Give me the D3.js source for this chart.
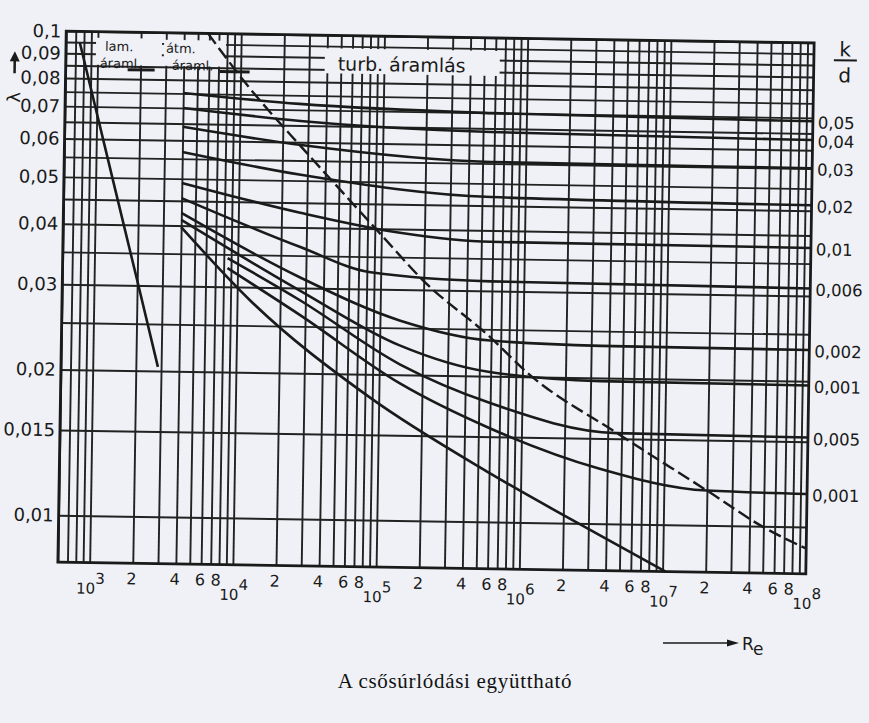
<!DOCTYPE html>
<html><head><meta charset="utf-8">
<script src="https://cdn.jsdelivr.net/npm/d3@7"></script>
<style>body{margin:0;background:#eff1f6;}svg{display:block}</style>
</head><body><svg id="c" width="869" height="723"></svg>
<script>
// ---- data ----
const reDomain=[600,1e8];
const lambdaDomain=[0.008,0.1];
const reDecades=[1e2,1e3,1e4,1e5,1e6,1e7];
const reMultipliers=[1,2,3,4,5,6,7,8,9];
const reMajor=[1e3,1e4,1e5,1e6,1e7,1e8];
const reMajorExp=["3","4","5","6","7","8"];
const reMinorDecades=[1e3,1e4,1e5,1e6,1e7];
const reMinorLabelMults=[2,4,6,8];
const lambdaGrid=[0.01,0.015,0.02,0.025,0.03,0.035,0.04,0.045,0.05,0.055,0.06,0.065,0.07,0.075,0.08,0.085,0.09,0.095,0.1];
const lambdaTicks=[0.1,0.09,0.08,0.07,0.06,0.05,0.04,0.03,0.02,0.015,0.01];
const lambdaTickLabels=["0,1","0,09","0,08","0,07","0,06","0,05","0,04","0,03","0,02","0,015","0,01"];
const laminar=[[750,0.0946],[1320,0.0494],[2030,0.0302],[2850,0.0204]];
const boundary=[[5860,0.1],[10400,0.0804],[29650,0.0570],[53500,0.0473],[102900,0.0385],[197700,0.0314],[589000,0.0241],[1.08e6,0.0204],[4.65e6,0.0154],[2.0e7,0.0118],[5.0e7,0.00996],[9.85e7,0.00904]];
const kd005=[[4000,0.0752],[26000,0.0720],[570000,0.0699],[1e8,0.0689]];
const kd004=[[4000,0.0700],[26500,0.0664],[570000,0.0639],[1e8,0.0630]];
const kd003=[[4000,0.0640],[27000,0.0592],[575000,0.0554],[1e8,0.0551]];
const kd002=[[4000,0.0568],[27000,0.0514],[580000,0.0469],[1e8,0.0462]];
const kd001=[[4000,0.0490],[27000,0.0429],[135000,0.0393],[580000,0.0379],[1e8,0.0377]];
const kd0006=[[4000,0.0456],[27000,0.0365],[85000,0.0325],[585000,0.0314],[1e8,0.0311]];
const kd0002=[[4000,0.0425],[27000,0.0316],[137000,0.0259],[590000,0.0237],[3.5e6,0.0233],[1e8,0.0232]];
const kd0001=[[4000,0.0411],[27000,0.0297],[138000,0.0230],[590000,0.0204],[3.5e6,0.0197],[1e8,0.0196]];
const kd00005=[[8500,0.0344],[27500,0.0283],[140000,0.0210],[600000,0.0176],[4.6e6,0.0154],[1e8,0.0153]];
const kd00001=[[8500,0.0328],[27500,0.0264],[140000,0.0192],[605000,0.0156],[3.5e6,0.0130],[2.0e7,0.0118],[1e8,0.0117]];
const smooth=[[4000,0.0397],[12300,0.0282],[87000,0.0179],[610000,0.0126],[3.6e6,0.00947],[1.05e7,0.008]];
const roughCurves=[kd005,kd004,kd003,kd002,kd001,kd0006,kd0002,kd0001,kd00005,kd00001];
const kdLabels=["0,05","0,04","0,03","0,02","0,01","0,006","0,002","0,001","0,005","0,001"];

// ---- drawing ----
const W=869,H=723, INK="#1a1a1a", BG="#eff1f6";
const svg=d3.select('#c');
svg.append('rect').attr('width',W).attr('height',H).attr('fill',BG);
const x=d3.scaleLog().domain(reDomain).range([62,810]);
const y=d3.scaleLog().domain(lambdaDomain).range([568,37]);
const [x0,x1]=x.range(), [y0,y1]=y.range();
const g=svg.append('g').attr('transform','rotate(0.9,436,303)');

// vertical grid
const gridRe=reDecades.flatMap(d=>reMultipliers.map(m=>d*m)).filter(v=>v>=reDomain[0]&&v<=reDomain[1]);
g.append('g').attr('transform',`translate(0,${y0})`)
 .call(d3.axisBottom(x).tickValues(gridRe).tickSize(-(y0-y1)).tickFormat(''))
 .call(s=>{s.select('.domain').remove();s.selectAll('line').attr('stroke','#222').attr('stroke-width',1.9);});
// horizontal grid
g.append('g').attr('transform',`translate(${x0},0)`)
 .call(d3.axisLeft(y).tickValues(lambdaGrid).tickSize(-(x1-x0)).tickFormat(''))
 .call(s=>{s.select('.domain').remove();s.selectAll('line').attr('stroke','#222').attr('stroke-width',1.9);});

// label masks
g.append('rect').attr('x',92).attr('y',43).attr('width',66).attr('height',27).attr('fill',BG);
g.append('rect').attr('x',160).attr('y',44).attr('width',62).attr('height',26).attr('fill',BG);
g.append('rect').attr('x',321).attr('y',50).attr('width',175).attr('height',25).attr('fill',BG);

// frame
g.append('rect').attr('x',x0).attr('y',y1).attr('width',x1-x0).attr('height',y0-y1)
 .attr('fill','none').attr('stroke',INK).attr('stroke-width',2.8);

const line=d3.line().x(d=>x(d[0])).y(d=>y(d[1]));
const lineSmooth=d3.line().x(d=>x(d[0])).y(d=>y(d[1])).curve(d3.curveMonotoneX);

g.append('path').attr('d',line(laminar)).attr('fill','none').attr('stroke',INK).attr('stroke-width',2.6);
[...roughCurves,smooth].forEach(c=>{
  g.append('path').attr('d',lineSmooth(c)).attr('fill','none').attr('stroke',INK).attr('stroke-width',2.6);
});
g.append('path').attr('d',lineSmooth(boundary)).attr('fill','none').attr('stroke',INK)
 .attr('stroke-width',2.4).attr('stroke-dasharray','13,5');

// in-plot labels
const lab=(tx,xx,yy,fs)=>g.append('text').attr('x',xx).attr('y',yy).text(tx)
  .attr('font-family','DejaVu Sans').attr('font-size',fs).attr('fill',INK);
lab('lam.',101,56,13);
lab('áraml.',96,73,13);
lab('átm.',162,57,13);
lab('áraml.',168,74,13);
g.append('line').attr('x1',124).attr('x2',151).attr('y1',74.5).attr('y2',74.5).attr('stroke',INK).attr('stroke-width',3);
g.append('line').attr('x1',216).attr('x2',246).attr('y1',75).attr('y2',75).attr('stroke',INK).attr('stroke-width',3);
lab('turb. áramlás',334,72,19);

// left axis labels
g.append('g').attr('transform',`translate(${x0},0)`)
 .call(d3.axisLeft(y).tickValues(lambdaTicks).tickFormat((d,i)=>lambdaTickLabels[i]).tickSize(0).tickPadding(5))
 .call(s=>{s.select('.domain').remove();s.selectAll('text').attr('font-family','DejaVu Sans').attr('font-size',18).attr('fill',INK);});

// right k/d labels
roughCurves.forEach((c,i)=>{
  g.append('text').attr('x',815).attr('y',y(c[c.length-1][1])+1.5).attr('dy','0.35em')
   .text(kdLabels[i]).attr('font-family','DejaVu Sans').attr('font-size',16.5).attr('fill',INK);
});
g.append('text').attr('x',841).attr('y',50).attr('text-anchor','middle').text('k')
 .attr('font-family','DejaVu Sans').attr('font-size',20).attr('fill',INK);
g.append('line').attr('x1',830).attr('x2',853).attr('y1',54).attr('y2',54).attr('stroke',INK).attr('stroke-width',2);
g.append('text').attr('x',841).attr('y',76).attr('text-anchor','middle').text('d')
 .attr('font-family','DejaVu Sans').attr('font-size',20).attr('fill',INK);

// lambda axis title with arrow
g.append('line').attr('x1',11).attr('x2',11).attr('y1',80).attr('y2',66).attr('stroke',INK).attr('stroke-width',2.5);
g.append('path').attr('d','M6,68 L11,58 L16,68 Z').attr('fill',INK);
g.append('text').attr('transform','translate(17,104) rotate(-90)').attr('text-anchor','middle').text('λ')
 .attr('font-family','DejaVu Sans').attr('font-size',18).attr('fill',INK);

// x tick labels
reMinorDecades.forEach(d=>reMinorLabelMults.forEach(m=>{
  g.append('text').attr('x',x(d*m)-(m===8?3:1)).attr('y',589).attr('text-anchor','middle').text(m)
   .attr('font-family','DejaVu Sans').attr('font-size',16).attr('fill',INK);
}));
reMajor.forEach((v,i)=>{
  const dy=i===0?-4:0;
  g.append('text').attr('x',x(v)+6).attr('y',603+dy).attr('text-anchor','end').text('10')
   .attr('font-family','DejaVu Sans').attr('font-size',15).attr('fill',INK);
  g.append('text').attr('x',x(v)+6).attr('y',593+dy).attr('text-anchor','start').text(reMajorExp[i])
   .attr('font-family','DejaVu Sans').attr('font-size',15).attr('fill',INK);
});

// Re arrow (unrotated)
svg.append('line').attr('x1',663).attr('x2',730).attr('y1',643).attr('y2',643).attr('stroke',INK).attr('stroke-width',1.6);
svg.append('path').attr('d','M727,639.5 L739,643 L727,646.5 Z').attr('fill',INK);
const re=svg.append('text').attr('x',742).attr('y',650).attr('font-family','DejaVu Sans').attr('fill',INK);
re.append('tspan').attr('font-size',17).text('R');
re.append('tspan').attr('font-size',17).attr('dy',5).text('e');

// caption
svg.append('text').attr('x',455).attr('y',688).attr('text-anchor','middle')
 .attr('font-family','Liberation Serif').attr('font-size',21).attr('letter-spacing',0.7).attr('fill','#111')
 .text('A csősúrlódási együttható');
</script></body></html>
